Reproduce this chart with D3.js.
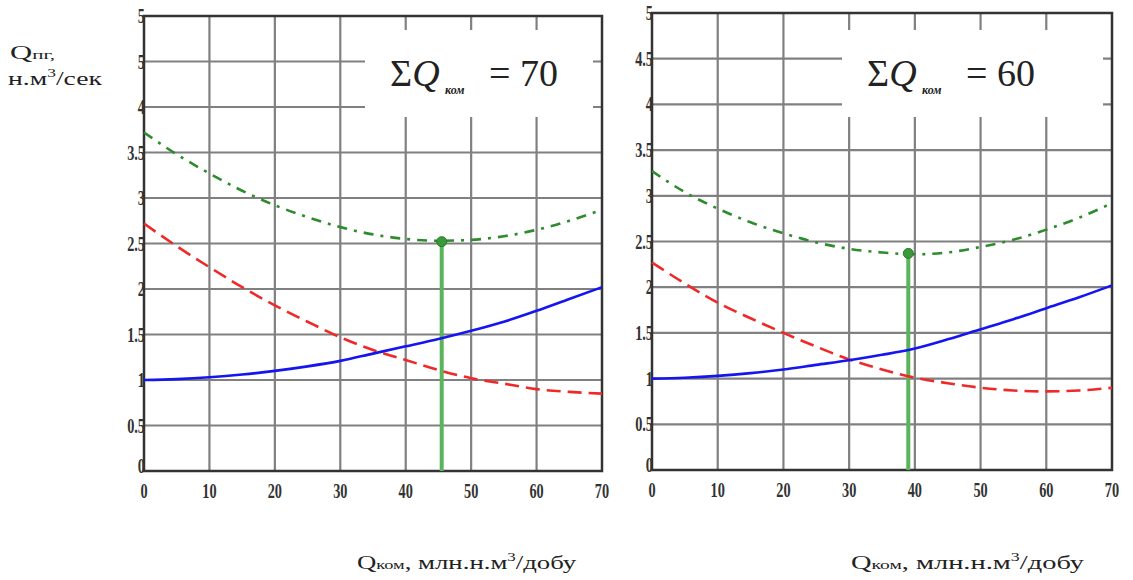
<!DOCTYPE html>
<html>
<head>
<meta charset="utf-8">
<script src="https://cdn.jsdelivr.net/npm/d3@7"></script>
<style>
  body { margin: 0; background: #fff; }
  svg { display: block; }
  text { font-family: "Liberation Serif", "Times New Roman", "DejaVu Serif", serif; }
</style>
</head>
<body>
<script>
// x values, Qком (млн.н.м3/добу)
var xs = [0, 5, 10, 15, 20, 25, 30, 35, 40, 45, 50, 55, 60, 65, 70];

// panel 1: ΣQком = 70
var blue70  = [1.00, 1.01, 1.03, 1.06, 1.10, 1.15, 1.21, 1.29, 1.37, 1.45, 1.54, 1.64, 1.76, 1.89, 2.02];
var red70   = [2.72, 2.47, 2.24, 2.02, 1.82, 1.64, 1.47, 1.33, 1.22, 1.11, 1.02, 0.96, 0.90, 0.87, 0.85];
var green70 = [3.72, 3.48, 3.27, 3.08, 2.92, 2.79, 2.68, 2.60, 2.55, 2.53, 2.54, 2.58, 2.65, 2.75, 2.87];
var opt70 = [45.5, 2.52];

// panel 2: ΣQком = 60
var blue60  = [1.00, 1.01, 1.03, 1.06, 1.10, 1.15, 1.20, 1.26, 1.33, 1.43, 1.54, 1.65, 1.77, 1.89, 2.02];
var red60   = [2.27, 2.04, 1.83, 1.66, 1.50, 1.35, 1.21, 1.10, 1.01, 0.95, 0.90, 0.87, 0.86, 0.87, 0.90];
var green60 = [3.27, 3.04, 2.86, 2.71, 2.59, 2.49, 2.42, 2.38, 2.36, 2.38, 2.44, 2.52, 2.63, 2.76, 2.92];
var opt60 = [39, 2.37];

var xTicks = [0, 10, 20, 30, 40, 50, 60, 70];
var yTicks = [0, 0.5, 1, 1.5, 2, 2.5, 3, 3.5, 4, 4.5, 5];
var yLabels70 = ["0", "0.5", "1", "1.5", "2", "2.5", "3", "3.5", "4", "5", "5"];
var yLabels60 = ["0", "0.5", "1", "1.5", "2", "2.5", "3", "3.5", "4", "4.5", "5"];

var svg = d3.select('body').append('svg')
  .attr('width', 1133)
  .attr('height', 580);

// stretch a text horizontally so that it spans the given width
function fitWidth(t, x0, y0, w) {
  var bw = t.node().getBBox().width;
  t.attr('transform', 'translate(' + x0 + ',' + y0 + ') scale(' + (w / bw) + ',1)');
}

function drawPanel(p) {
  var x = d3.scaleLinear().domain([0, 70]).range([p.left, p.right]);
  var y = d3.scaleLinear().domain([0, 5]).range([p.bottom, p.top]);
  var g = svg.append('g');

  // grid
  g.selectAll('line.gx').data(xTicks.slice(1, -1)).enter().append('line')
    .attr('x1', function(d) { return x(d); }).attr('x2', function(d) { return x(d); })
    .attr('y1', p.top).attr('y2', p.bottom)
    .attr('stroke', '#808080').attr('stroke-width', 2.2);
  g.selectAll('line.gy').data(yTicks.slice(1, -1)).enter().append('line')
    .attr('x1', p.left).attr('x2', p.right)
    .attr('y1', function(d) { return y(d); }).attr('y2', function(d) { return y(d); })
    .attr('stroke', '#808080').attr('stroke-width', 2.2);

  // white box of the label
  g.append('rect')
    .attr('x', p.box[0]).attr('y', p.box[1])
    .attr('width', p.box[2] - p.box[0]).attr('height', p.box[3] - p.box[1])
    .attr('fill', '#fff');

  var bx = p.box[0];
  var lt = g.append('text')
    .attr('x', bx + 25).attr('y', 86)
    .attr('font-size', 38).attr('fill', '#222');
  lt.append('tspan').text('Σ');
  lt.append('tspan').attr('font-style', 'italic').text('Q');
  g.append('text')
    .attr('x', bx + 80).attr('y', 94)
    .attr('font-style', 'italic').attr('font-weight', 'bold')
    .attr('font-size', 12).attr('fill', '#222').text('ком');
  g.append('text')
    .attr('x', bx + 124).attr('y', 86)
    .attr('font-size', 38).attr('fill', '#222').text('= ' + p.total);

  // frame
  g.append('rect')
    .attr('x', p.left).attr('y', p.top)
    .attr('width', p.right - p.left).attr('height', p.bottom - p.top)
    .attr('fill', 'none').attr('stroke', '#333').attr('stroke-width', 2.5);

  var line = d3.line()
    .x(function(d) { return x(d[0]); })
    .y(function(d) { return y(d[1]); })
    .curve(d3.curveMonotoneX);

  function series(vals) { return xs.map(function(v, i) { return [v, vals[i]]; }); }

  // optimum
  g.append('line')
    .attr('x1', x(p.opt[0])).attr('x2', x(p.opt[0]))
    .attr('y1', y(p.opt[1])).attr('y2', p.bottom)
    .attr('stroke', '#5ab55a').attr('stroke-width', 4);

  g.append('path').attr('d', line(series(p.red)))
    .attr('fill', 'none').attr('stroke', '#f02828').attr('stroke-width', 2.6)
    .attr('stroke-dasharray', '14,7');
  g.append('path').attr('d', line(series(p.blue)))
    .attr('fill', 'none').attr('stroke', '#1515f0').attr('stroke-width', 2.6);
  g.append('path').attr('d', line(series(p.green)))
    .attr('fill', 'none').attr('stroke', '#2e8b2e').attr('stroke-width', 2.6)
    .attr('stroke-dasharray', '10,7,3,7');

  g.append('circle')
    .attr('cx', x(p.opt[0])).attr('cy', y(p.opt[1])).attr('r', 5)
    .attr('fill', '#3a9a3a').attr('stroke', '#2a7a2a').attr('stroke-width', 1);

  // tick labels (condensed bold digits)
  g.selectAll('text.yl').data(yTicks).enter().append('text')
    .attr('transform', function(d) {
      return 'translate(' + (p.left + 1) + ',' + (y(d) + (d === 0 ? 2 : 7)) + ') scale(0.68,1)';
    })
    .attr('text-anchor', 'end')
    .attr('font-weight', 'bold').attr('font-size', 21)
    .attr('fill', '#333')
    .text(function(d, i) { return p.yLabels[i]; });

  g.selectAll('text.xl').data(xTicks).enter().append('text')
    .attr('transform', function(d) {
      return 'translate(' + x(d) + ',' + (p.bottom + 27) + ') scale(0.68,1)';
    })
    .attr('text-anchor', 'middle')
    .attr('font-weight', 'bold').attr('font-size', 21)
    .attr('fill', '#333')
    .text(function(d) { return d; });

  // x title
  var xt = g.append('text')
    .attr('font-size', 19).attr('fill', '#222');
  xt.append('tspan').text('Q');
  xt.append('tspan').attr('font-size', 13).text('ком');
  xt.append('tspan').text(', млн.н.м');
  xt.append('tspan').attr('font-size', 12).attr('dy', -8).text('3');
  xt.append('tspan').attr('dy', 8).text('/добу');
  fitWidth(xt, p.xTitle[0], 569, p.xTitle[1] - p.xTitle[0]);
}

drawPanel({
  left: 144, right: 602, top: 16, bottom: 471,
  box: [365, 30, 593, 117], total: 70,
  blue: blue70, red: red70, green: green70, opt: opt70,
  yLabels: yLabels70, xTitle: [357, 577]
});

drawPanel({
  left: 652, right: 1112, top: 13, bottom: 470,
  box: [842, 30, 1103, 117], total: 60,
  blue: blue60, red: red60, green: green60, opt: opt60,
  yLabels: yLabels60, xTitle: [851, 1085]
});

// y title
var yt = svg.append('text')
  .attr('font-size', 19).attr('fill', '#222');
yt.append('tspan').text('Q');
yt.append('tspan').attr('font-size', 13).text('пг,');
fitWidth(yt, 10, 59, 45);

var yt2 = svg.append('text')
  .attr('font-size', 19).attr('fill', '#222');
yt2.append('tspan').text('н.м');
yt2.append('tspan').attr('font-size', 12).attr('dy', -8).text('3');
yt2.append('tspan').attr('dy', 8).text('/сек');
fitWidth(yt2, 8, 85, 95);
</script>
</body>
</html>
